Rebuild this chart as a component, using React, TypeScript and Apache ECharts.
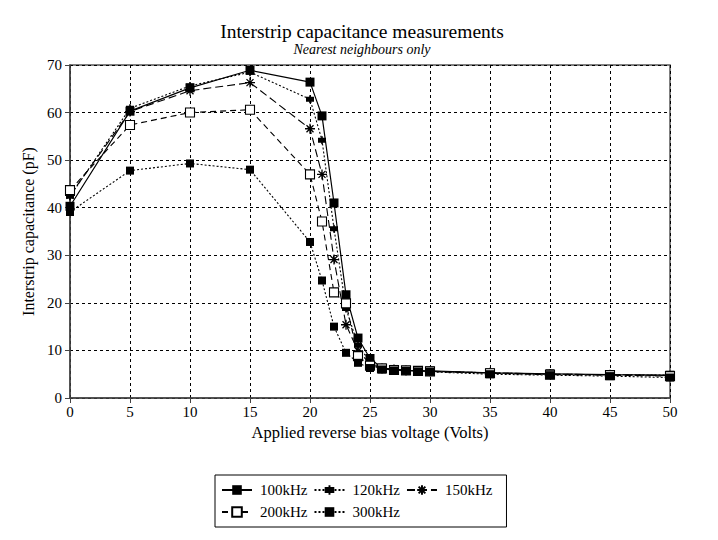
import React, { useEffect, useRef } from "react";
import * as echarts from "echarts";

const voltages = [0, 5, 10, 15, 20, 21, 22, 23, 24, 25, 26, 27, 28, 29, 30, 35, 40, 45, 50];
const seriesNames = ["100kHz", "120kHz", "150kHz", "200kHz", "300kHz"];
const cap100 = [40.3, 60.3, 65.2, 68.9, 66.4, 59.3, 41.0, 21.7, 12.6, 8.3, 6.3, 6.0, 5.8, 5.7, 5.7, 5.3, 5.1, 4.9, 4.8];
const cap120 = [42.4, 60.9, 65.6, 68.5, 62.8, 54.2, 35.6, 18.8, 11.1, 7.6, 6.3, 6.0, 5.8, 5.7, 5.6, 5.3, 5.0, 4.9, 4.8];
const cap150 = [42.6, 60.2, 64.6, 66.3, 56.6, 47.0, 29.1, 15.4, 9.9, 7.2, 6.2, 6.0, 5.8, 5.7, 5.6, 5.3, 5.0, 4.9, 4.7];
const cap200 = [43.7, 57.4, 60.0, 60.6, 47.0, 37.1, 22.2, 19.9, 8.8, 6.8, 6.2, 5.9, 5.8, 5.7, 5.6, 5.2, 4.9, 4.8, 4.6];
const cap300 = [39.1, 47.8, 49.3, 48.0, 32.8, 24.7, 15.0, 9.5, 7.4, 6.3, 6.0, 5.8, 5.7, 5.6, 5.5, 5.0, 4.8, 4.6, 4.3];
const xTicks = { min: 0, max: 50, interval: 5 };
const yTicks = { min: 0, max: 70, interval: 10 };

const FONT = "Liberation Serif";

export default function App() {
  const ref = useRef<HTMLDivElement>(null);
  useEffect(() => {
    if (!ref.current) return;
    const chart = echarts.init(ref.current, undefined, { renderer: "svg" });
    const pair = (ys: number[]) => voltages.map((v, i) => [v, ys[i]]);
    const starPath = "path://M0,5L10,5M5,0L5,10M1.5,1.5L8.5,8.5M1.5,8.5L8.5,1.5";
    const crossSquare = "path://M1,1.5H7V6.5H1Z M3.4,0H4.6V8H3.4Z";
    const common = {
      type: "line",
      showSymbol: true,
      z: 3,
    };
    chart.setOption({
      animation: false,
      backgroundColor: "#fff",
      title: {
        text: "Interstrip capacitance measurements",
        subtext: "Nearest neighbours only",
        left: 362,
        textAlign: "center",
        top: 21,
        itemGap: 1,
        padding: 0,
        textStyle: { fontFamily: FONT, fontSize: 19.5, fontWeight: "normal", color: "#000" },
        subtextStyle: { fontFamily: FONT, fontSize: 14, fontStyle: "italic", color: "#000" },
      },
      grid: {
        left: 70,
        right: 48,
        top: 65,
        bottom: 142,
        show: true,
        borderColor: "#555",
        borderWidth: 1.5,
        backgroundColor: "transparent",
      },
      legend: {
        data: seriesNames,
        left: 215,
        top: 475,
        width: 275,
        orient: "horizontal",
        borderColor: "#000",
        borderWidth: 1,
        padding: [7, 14, 7, 6],
        itemGap: 6,
        itemWidth: 30,
        itemHeight: 12,
        textStyle: { fontFamily: FONT, fontSize: 15, lineHeight: 16, color: "#000", padding: [0, 0, 0, 3] },
      },
      xAxis: {
        type: "value",
        min: xTicks.min,
        max: xTicks.max,
        interval: xTicks.interval,
        name: "Applied reverse bias voltage (Volts)",
        nameLocation: "middle",
        nameGap: 26,
        nameTextStyle: { fontFamily: FONT, fontSize: 16.5, color: "#000" },
        axisLine: { show: true, lineStyle: { color: "#444", width: 1.5 } },
        axisTick: { show: true, length: 5, lineStyle: { color: "#444" } },
        axisLabel: { fontFamily: FONT, fontSize: 15, color: "#000", margin: 6 },
        splitLine: { show: true, lineStyle: { color: "#000", type: [3, 3], width: 1 } },
      },
      yAxis: {
        type: "value",
        min: yTicks.min,
        max: yTicks.max,
        interval: yTicks.interval,
        name: "Interstrip capacitance (pF)",
        nameLocation: "middle",
        nameGap: 27,
        nameRotate: 90,
        nameTextStyle: { fontFamily: FONT, fontSize: 16, color: "#000" },
        axisLine: { show: true, lineStyle: { color: "#444", width: 1.5 } },
        axisTick: { show: true, length: 5, lineStyle: { color: "#444" } },
        axisLabel: { fontFamily: FONT, fontSize: 15, color: "#000", margin: 8 },
        splitLine: { show: true, lineStyle: { color: "#000", type: [3, 3], width: 1 } },
      },
      series: [
        {
          ...common,
          name: seriesNames[0],
          data: pair(cap100),
          symbol: "rect",
          symbolSize: 9,
          lineStyle: { color: "#000", width: 1.2, type: "solid" },
          itemStyle: { color: "#000" },
        },
        {
          ...common,
          name: seriesNames[1],
          data: pair(cap120),
          symbol: crossSquare,
          symbolSize: 8,
          lineStyle: { color: "#000", width: 1.1, type: [2, 2] },
          itemStyle: { color: "#000" },
        },
        {
          ...common,
          name: seriesNames[2],
          data: pair(cap150),
          symbol: starPath,
          symbolSize: 10,
          lineStyle: { color: "#000", width: 1.1, type: [8, 4] },
          itemStyle: { color: "#000", borderColor: "#000", borderWidth: 1.3 },
        },
        {
          ...common,
          name: seriesNames[3],
          data: pair(cap200),
          symbol: "rect",
          symbolSize: 9,
          lineStyle: { color: "#000", width: 1.1, type: [6, 4] },
          itemStyle: { color: "#fff", borderColor: "#000", borderWidth: 1.1 },
        },
        {
          ...common,
          name: seriesNames[4],
          data: pair(cap300),
          symbol: "rect",
          symbolSize: 8,
          lineStyle: { color: "#000", width: 1.1, type: [2, 2] },
          itemStyle: { color: "#000" },
        },
      ],
    });
    return () => chart.dispose();
  }, []);
  return (
    <div
      ref={ref}
      style={{ position: "fixed", left: 0, top: 0, width: 718, height: 540, background: "#fff" }}
    />
  );
}
